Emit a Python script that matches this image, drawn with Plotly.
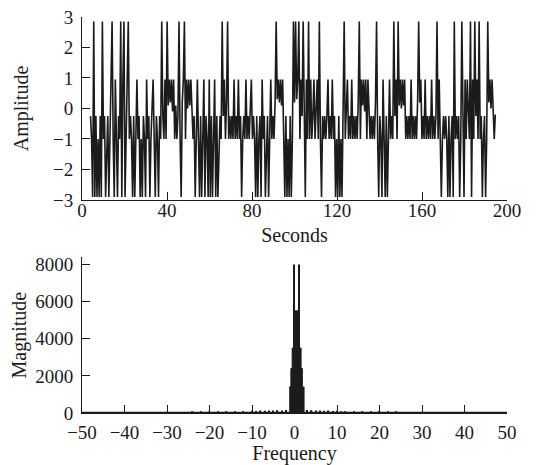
import numpy as np
import plotly.graph_objects as go

INK = "#1c1a1b"

amp_start = 4.0
amp_step = 0.508
amplitude = [
    # 4 - 22 s
    -0.25, -1, -2.9, 2.85, -2.9, -0.25, -2.9, -1, -2.9, -0.25, -2.9, 2.85, -1, -0.25, -2.9, -1, -0.25,
    -2.9, -1, -0.25, 2.85, -1, -2.9, 0.95, -1, -2.9, -0.25, -1, 2.85, -2.9, 0.95, 2.85, -2.9, -1, -0.25,
    2.85, -1,
    # 22.5 - 36 s
    -0.25, -1, -2.9, -0.25, -2.9, -1, 0.95, -1, -0.25, -2.9, -1, -2.9, -0.25, -1, -2.9, 0.95, -1, -0.25,
    -2.9, -1, -0.25, 0.95, -1, -2.9, -0.25, -1, -2.9, -0.25,
    # 36.5 - 52 s
    -1, 2.85, -0.25, -1, 0.95, -1, 2.85, 0.1, 0.95, 0.2, 0.95, -0.1, 0.95, -1, 0.1, -1, -0.25, 2.85, -1,
    -2.9, 0.2, 0.95, 2.85, -1, 0.95, 0, 0.95, 0.1, 0.95, -0.25, -1, -0.25,
    # 52.5 - 68 s
    -2.9, -1, 0.95, -1, -2.9, -0.25, -2.9, -1, 0.95, -2.9, -0.25, -1, -2.9, 0.95, -2.9, -0.25, -2.9, -1,
    0.95, -2.9, -0.25, -2.9, -1, -0.25, -1, 2.85, -0.25, 0.95, -1, 0.2, 2.85, -1,
    # 68.5 - 90 s
    -0.25, -1, -0.25, -1, 0.95, -1, -0.25, -1, 0.95, -1, -0.25, -2.9, -1, -0.25, -1, 0.95, -1, -0.25, -1,
    -0.25, 0.95, -1, -0.25, -1, -2.9, -0.25, -2.9, -1, -0.25, -2.9, 0.95, -1, -0.25, -2.9, -1, -0.25,
    -2.9, -1, 0.95, -1, -0.25, -1, 0.2, 2.85,
    # 90.5 - 112 s
    0.3, 0.95, 0.2, 0.95, 0.1, 0.95, -1, -2.9, -0.25, -2.9, -1, -2.9, -0.25, -2.9, -1, 2.85, 0.2, 2.85,
    0.3, 0.95, 2.85, -1, 0.95, -0.25, 2.85, -1, -2.9, 0.95, -1, 2.85, -1, 0.95, -1, -0.25, 0.95, -1,
    -0.25, 0.95, -1, 2.85, -1, -2.9, -0.25, -1,
    # 112.5 - 128 s
    -0.25, -1, -0.25, 0.95, -1, -0.25, -1, 0.95, -1, -0.25, -2.9, -1, -2.9, -0.25, -2.9, -1, -2.9, -0.25,
    2.85, -1, -0.25, 0.95, -1, -0.25, -1, 0.95, -1, -0.25, -1, -0.25, -1, 0.2,
    # 128.5 - 146 s
    2.85, -1, 0.95, 0.1, 0.95, -0.1, 0.95, -1, 0.95, -0.25, -1, -0.25, -1, -0.25, -1, 0.2, 2.85, -1, -2.9,
    -0.25, -1, -2.9, 0.95, -1, -2.9, -0.25, -2.9, -1, 0.95, -1, -0.25, -1, 2.85, -0.25, 0.95, -1,
    # 146.5 - 166 s
    2.85, 0.1, 0.95, 0, 0.95, 0.1, 0.95, -1, -0.25, -1, -0.25, -1, 0.95, -1, -0.25, -1, -0.25, -1, 0.2,
    2.85, 0.2, 0.95, -1, -0.25, -1, 0.95, -1, -0.25, -1, -0.25, -1, 0.95, -1, -0.25, -1, -0.25, 2.85, -1,
    0.95, -1,
    # 166.5 - 191.5 s
    -2.9, -1, -0.25, -1, -0.25, -1, -2.9, -0.25, -2.9, -1, -0.25, -2.9, 2.85, -1, -0.25, -1, -0.25, -2.9,
    -1, 2.85, -1, -2.9, 0.95, -1, 0.95, -0.25, -1, 2.85, -2.9, 0.95, -1, 2.85, -0.25, 0.95, -1, 2.85, -1,
    -0.25, -2.9, -1, -0.25, -2.9, -1, 2.85, 0.2, 0.95, 0, 0.95, 0.1, -1, -0.2,
]
seconds = amp_start + amp_step * np.arange(len(amplitude))

# ---- bottom panel: magnitude spectrum ----
stair_freq = [-1.25, -0.85, -0.55, -0.05, 1.05, 1.55, 1.85, 2.25]
stair_mag = [1400, 2400, 3500, 5500, 3500, 2400, 1400, 0]
spike_freq = [-0.05, 1.05]
spike_mag = [8000, 8000]
ripple_freq = [-24, -22, -20, -18, -16, -14, -12, -10, -9, -8, -7, -6, -5, -4, -3, -2,
               3, 4, 5, 6, 7, 8, 9, 10, 11, 12, 14, 16, 18, 20, 22, 24]
ripple_mag = [40, 50, 60, 60, 70, 80, 90, 120, 110, 130, 120, 140, 130, 150, 140, 160,
              160, 150, 140, 130, 120, 130, 110, 120, 100, 90, 80, 70, 60, 60, 50, 40]
floor_freq = [-50, 50]
floor_mag = [0, 0]

time_ticks = [0, 40, 80, 120, 160, 200]
amp_ticks = [-3, -2, -1, 0, 1, 2, 3]
freq_ticks = [-50, -40, -30, -20, -10, 0, 10, 20, 30, 40, 50]
mag_ticks = [0, 2000, 4000, 6000, 8000]

fig = go.Figure()
fig.add_trace(go.Scatter(x=seconds, y=amplitude, mode="lines",
                         line=dict(color=INK, width=1.6), xaxis="x", yaxis="y"))
fig.add_trace(go.Bar(x=ripple_freq, y=ripple_mag, width=0.35, marker=dict(color=INK, line=dict(width=0)),
                     xaxis="x2", yaxis="y2"))
fig.add_trace(go.Scatter(x=stair_freq, y=stair_mag, mode="lines", line_shape="hv", fill="tozeroy",
                         fillcolor=INK, line=dict(color=INK, width=1), xaxis="x2", yaxis="y2"))
fig.add_trace(go.Bar(x=spike_freq, y=spike_mag, width=0.3, marker=dict(color=INK, line=dict(width=0)),
                     xaxis="x2", yaxis="y2"))
fig.add_trace(go.Scatter(x=floor_freq, y=floor_mag, mode="lines", line=dict(color=INK, width=2.5),
                         xaxis="x2", yaxis="y2"))

FONT = "Liberation Serif"
tickfont = dict(family=FONT, size=19, color=INK)
titlefont = dict(family=FONT, size=20, color=INK)
axis_common = dict(showline=True, linecolor=INK, linewidth=1, ticks="inside", ticklen=8,
                   tickcolor=INK, tickwidth=1, showgrid=False, zeroline=False, tickfont=tickfont,
                   automargin=False, ticklabeloverflow="allow")

fig.update_layout(
    template="none",
    width=541, height=457,
    margin=dict(l=74, r=42, t=9, b=52),
    paper_bgcolor="white", plot_bgcolor="white",
    showlegend=False, barmode="overlay",
    xaxis=dict(domain=[0, 1], range=[0, 200], tickvals=time_ticks, anchor="y", ticklabelstandoff=-7,
               title=dict(text="Seconds", font=titlefont, standoff=8), **axis_common),
    yaxis=dict(domain=[0.538, 1], range=[-3, 3], tickvals=amp_ticks, anchor="x", ticklabelstandoff=4,
               title=dict(text="Amplitude", font=titlefont, standoff=18), **axis_common),
    xaxis2=dict(domain=[0, 1], range=[-50, 50], tickvals=freq_ticks, anchor="y2", ticklabelstandoff=2,
                title=dict(text="Frequency", font=titlefont, standoff=0), **axis_common),
    yaxis2=dict(domain=[0, 0.393], range=[0, 8380], tickvals=mag_ticks, anchor="x2", ticklabelstandoff=4,
                title=dict(text="Magnitude", font=titlefont, standoff=4), **axis_common),
)

fig.write_html("out.html")
